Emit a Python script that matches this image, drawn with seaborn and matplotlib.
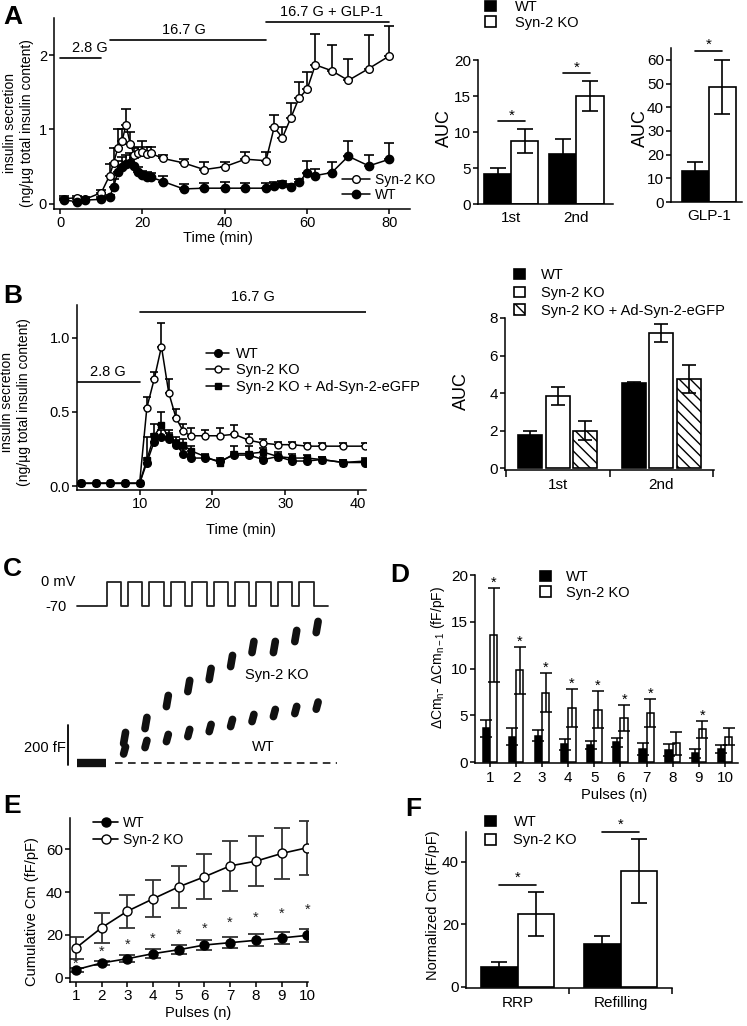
import numpy as np
import pandas as pd
import matplotlib
matplotlib.use("Agg")
import matplotlib.pyplot as plt
from matplotlib.lines import Line2D
from matplotlib.patches import Patch
import seaborn as sns

# ======================= DATA =======================
# Panel A - perifusion time course
a_time = [1, 4, 6, 10, 12, 13, 14, 15, 16, 17, 18, 19, 20, 21, 22, 25, 30, 35, 40, 45,
          50, 52, 54, 56, 58, 60, 62, 66, 70, 75, 80]
a_ko = [0.07, 0.08, 0.06, 0.15, 0.38, 0.55, 0.75, 0.84, 1.06, 0.81, 0.66, 0.69, 0.70, 0.67,
        0.68, 0.61, 0.55, 0.46, 0.50, 0.60, 0.58, 1.03, 0.89, 1.15, 1.42, 1.54, 1.87, 1.79,
        1.66, 1.82, 1.99]
a_ko_err = [0.03, 0.03, 0.03, 0.03, 0.16, 0.20, 0.25, 0.17, 0.21, 0.16, 0.09, 0.08, 0.15,
            0.09, 0.08, 0.05, 0.05, 0.10, 0.06, 0.10, 0.12, 0.17, 0.14, 0.21, 0.22, 0.23,
            0.41, 0.35, 0.29, 0.45, 0.40]
a_wt = [0.05, 0.03, 0.05, 0.06, 0.09, 0.23, 0.43, 0.50, 0.53, 0.55, 0.51, 0.43, 0.39, 0.36,
        0.36, 0.30, 0.20, 0.21, 0.21, 0.21, 0.21, 0.24, 0.26, 0.23, 0.29, 0.42, 0.38, 0.42,
        0.64, 0.51, 0.60]
a_wt_err = [0.03, 0.03, 0.03, 0.03, 0.03, 0.10, 0.15, 0.13, 0.12, 0.13, 0.10, 0.06, 0.05,
            0.07, 0.06, 0.07, 0.07, 0.07, 0.08, 0.07, 0.07, 0.05, 0.05, 0.03, 0.05, 0.15,
            0.09, 0.14, 0.20, 0.15, 0.22]
a_phase_labels = ["2.8 G", "16.7 G", "16.7 G + GLP-1"]
a_phase_start = [0, 12, 50]
a_phase_end = [10, 50, 80]

a_auc_phase = ["1st", "2nd"]
a_auc_wt = [4.2, 7.0]
a_auc_wt_err = [0.8, 2.0]
a_auc_ko = [8.8, 15.0]
a_auc_ko_err = [1.65, 2.15]
a_glp_cat = ["GLP-1"]
a_glp_wt = [13.0]
a_glp_wt_err = [4.0]
a_glp_ko = [48.5]
a_glp_ko_err = [11.3]

# Panel B - rescue time course
b_time = [2, 4, 6, 8, 10, 11, 12, 13, 14, 15, 16, 17, 19, 21, 23, 25, 27, 29, 31, 33, 35, 38, 41]
b_wt = [0.02, 0.02, 0.02, 0.02, 0.02, 0.16, 0.30, 0.33, 0.32, 0.28, 0.22, 0.19, 0.19, 0.17,
        0.21, 0.21, 0.18, 0.20, 0.17, 0.17, 0.18, 0.16, 0.16]
b_wt_err = [0.0, 0.0, 0.0, 0.0, 0.0, 0.03, 0.05, 0.05, 0.04, 0.03, 0.03, 0.02, 0.02, 0.02,
            0.02, 0.02, 0.02, 0.02, 0.02, 0.02, 0.02, 0.02, 0.02]
b_ko = [0.02, 0.02, 0.02, 0.02, 0.02, 0.53, 0.72, 0.94, 0.63, 0.46, 0.37, 0.34, 0.34, 0.34,
        0.35, 0.31, 0.29, 0.28, 0.28, 0.27, 0.27, 0.27, 0.27]
b_ko_err = [0.0, 0.0, 0.0, 0.0, 0.0, 0.07, 0.05, 0.16, 0.09, 0.06, 0.05, 0.05, 0.04, 0.05,
            0.06, 0.04, 0.03, 0.02, 0.02, 0.02, 0.02, 0.02, 0.02]
b_res = [0.02, 0.02, 0.02, 0.02, 0.02, 0.18, 0.34, 0.41, 0.33, 0.29, 0.28, 0.24, 0.20, 0.16,
         0.22, 0.22, 0.23, 0.20, 0.19, 0.19, 0.18, 0.16, 0.17]
b_res_err = [0.0, 0.0, 0.0, 0.0, 0.0, 0.15, 0.08, 0.09, 0.05, 0.04, 0.04, 0.03, 0.02, 0.02,
             0.05, 0.05, 0.03, 0.03, 0.03, 0.02, 0.02, 0.02, 0.02]
b_phase_labels = ["2.8 G", "16.7 G"]
b_phase_start = [0, 10]
b_phase_end = [10, 41.5]

b_groups = ["1st", "2nd"]
b_bar_wt = [1.74, 4.53]
b_bar_wt_err = [0.26, 0.05]
b_bar_ko = [3.84, 7.20]
b_bar_ko_err = [0.48, 0.50]
b_bar_res = [2.00, 4.73]
b_bar_res_err = [0.52, 0.75]

# Panel C - capacitance traces
c_onset_ms = [0, 1000, 2000, 3000, 4000, 5000, 6000, 7000, 8000, 9000]
c_pulse_dur_ms = 670
c_hold_mv = -70
c_step_mv = 0
c_ko_cm = [125, 200, 310, 385, 445, 510, 580, 580, 635, 680]
c_wt_cm = [63, 95, 125, 150, 175, 200, 225, 250, 265, 287]

# Panel D - per-pulse increments
d_pulses = ["1", "2", "3", "4", "5", "6", "7", "8", "9", "10"]
d_wt = [3.6, 2.7, 2.8, 1.9, 1.8, 2.1, 1.4, 1.25, 0.93, 1.4]
d_wt_err = [0.9, 0.9, 0.6, 0.6, 0.4, 0.5, 0.6, 0.65, 0.5, 0.4]
d_ko = [13.6, 9.8, 7.4, 5.8, 5.6, 4.7, 5.2, 2.0, 3.5, 2.7]
d_ko_err = [5.0, 2.5, 2.1, 2.0, 2.0, 1.4, 1.5, 1.2, 0.9, 0.9]
d_sig = [True, True, True, True, True, True, True, False, True, False]

# Panel E - cumulative capacitance
e_pulses = [1, 2, 3, 4, 5, 6, 7, 8, 9, 10]
e_wt = [3.75, 6.9, 8.9, 11.25, 13.1, 15.3, 16.4, 17.5, 18.6, 19.8]
e_wt_err = [1.0, 1.1, 1.5, 2.0, 2.2, 2.3, 2.6, 2.8, 3.0, 3.0]
e_ko = [13.9, 23.4, 31.1, 36.9, 42.5, 47.2, 52.3, 54.5, 58.1, 60.8]
e_ko_err = [5.2, 7.0, 7.8, 8.7, 9.7, 10.6, 11.6, 11.8, 12.1, 12.6]
e_star_level = [6.6, 12.0, 15.5, 18.3, 20.3, 23.0, 25.8, 28.1, 30.0, 32.0]

# Panel F - RRP / refilling
f_cats = ["RRP", "Refilling"]
f_wt = [6.4, 13.65]
f_wt_err = [1.6, 2.7]
f_ko = [23.3, 37.1]
f_ko_err = [7.1, 10.2]

# ======================= STYLE =======================
sns.set_theme(style="ticks")
plt.rcParams["font.family"] = ["Liberation Sans", "DejaVu Sans"]
plt.rcParams["mathtext.fontset"] = "custom"
plt.rcParams["mathtext.rm"] = "Liberation Sans"
plt.rcParams["mathtext.it"] = "Liberation Sans:italic"
plt.rcParams["mathtext.bf"] = "Liberation Sans:bold"
plt.rcParams["hatch.linewidth"] = 1.0
plt.rcParams["hatch.color"] = "black"
plt.rcParams["text.color"] = "black"
plt.rcParams["axes.labelcolor"] = "black"

W, H = 747, 1026
fig = plt.figure(figsize=(W / 100, H / 100), dpi=100)
fig.patch.set_facecolor("white")


def add_ax(l, t, r, b):
    return fig.add_axes([l / W, 1 - b / H, (r - l) / W, (b - t) / H])


def style(ax, fs=10):
    sns.despine(ax=ax)
    ax.set_facecolor("none")
    ax.tick_params(axis="both", direction="out", length=3.5, width=1.1, labelsize=fs,
                   color="black", labelcolor="black", pad=1.5)
    for s in ("left", "bottom"):
        ax.spines[s].set_linewidth(1.1)
        ax.spines[s].set_color("black")


def legend_at(ax, handles, labels, x_px, y_px, fs=10.5, **kw):
    opts = dict(loc="upper left", bbox_to_anchor=(x_px / W, 1 - y_px / H),
                bbox_transform=fig.transFigure, frameon=False, fontsize=fs,
                borderpad=0, borderaxespad=0, handletextpad=0.6, labelspacing=0.2)
    opts.update(kw)
    return ax.legend(handles, labels, **opts)


def grouped_bars(ax, cats, names, values, errors, colors, width, gap=0.0, lw=1.2, capsize=5):
    df = pd.DataFrame({"cat": [c for _ in names for c in cats],
                       "grp": [n for n in names for _ in cats],
                       "val": [v for vals in values for v in vals]})
    sns.barplot(data=df, x="cat", y="val", hue="grp", order=cats, hue_order=names,
                palette=dict(zip(names, colors)), saturation=1, edgecolor="black",
                linewidth=lw, width=width, gap=gap, errorbar=None, legend=False, ax=ax,
                zorder=2)
    conts = list(ax.containers)
    for cont, errs in zip(conts, errors):
        xs = [p.get_x() + p.get_width() / 2 for p in cont]
        ys = [p.get_height() for p in cont]
        ax.errorbar(xs, ys, yerr=errs, fmt="none", ecolor="black", elinewidth=lw,
                    capsize=capsize, capthick=lw, zorder=3)
    ax.set_xlabel("")
    ax.set_ylabel("")
    return conts


def centers(cont):
    return [p.get_x() + p.get_width() / 2 for p in cont]


def label_y(ax, text, x, y, fs):
    ax.set_ylabel(text, fontsize=fs, va="center", ha="center")
    ax.yaxis.set_label_coords(x, y)


def label_x(ax, text, x, y, fs):
    ax.set_xlabel(text, fontsize=fs, va="center", ha="center")
    ax.xaxis.set_label_coords(x, y)


def panel_letter(x, y, s):
    fig.text(x / W, 1 - y / H, s, fontsize=19, fontweight="bold", ha="left", va="center")


def up_err(ax, x, y, e, capsize=3.5, lw=1.2):
    ax.errorbar(x, y, yerr=[np.zeros(len(e)), e], fmt="none", ecolor="black",
                elinewidth=lw, capsize=capsize, capthick=lw, zorder=2)


# ======================= PANEL A (time course) =======================
axA = add_ax(54, 18, 410, 209)
up_err(axA, a_time, a_ko, a_ko_err)
up_err(axA, a_time, a_wt, a_wt_err)
sns.lineplot(x=a_time, y=a_ko, ax=axA, color="black", lw=1.1, marker="o", markersize=5.5,
             markerfacecolor="white", markeredgecolor="black", markeredgewidth=1.0, zorder=4)
sns.lineplot(x=a_time, y=a_wt, ax=axA, color="black", lw=1.1, marker="o", markersize=6,
             markerfacecolor="black", markeredgecolor="black", markeredgewidth=1.0, zorder=5)
axA.set_xlim(-1.5, 85)
axA.set_ylim(-0.07, 2.5)
axA.set_xticks([0, 20, 40, 60, 80])
axA.set_yticks([0, 1, 2])
style(axA, 10.5)
a_levels = [1.96, 2.21, 2.44]
a_text_dx = [2.2, -1.0, 1.0]
for lab, s, e, lv, dx in zip(a_phase_labels, a_phase_start, a_phase_end, a_levels, a_text_dx):
    axA.plot([s, e], [lv, lv], color="black", lw=1.2, clip_on=False)
    axA.text((s + e) / 2 + dx, lv + 0.04, lab, ha="center", va="bottom", fontsize=10.5)
label_x(axA, "Time (min)", 0.46, -0.15, 10.5)
label_y(axA, "insulin secretion\n(ng/\u00b5g total insulin content)", -0.10, 0.45, 10)
legend_at(axA,
          [Line2D([0], [0], color="black", lw=1.1, marker="o", ms=5.5, mfc="white", mec="black"),
           Line2D([0], [0], color="black", lw=1.1, marker="o", ms=6, mfc="black", mec="black")],
          ["Syn-2 KO", "WT"], 342, 173, fs=10, handlelength=2.0, labelspacing=0.05,
          handletextpad=0.4)

# ======================= PANEL A (AUC bars) =======================
axA2 = add_ax(478, 60, 613, 204)
conts = grouped_bars(axA2, a_auc_phase, ["WT", "Syn-2 KO"], [a_auc_wt, a_auc_ko],
                     [a_auc_wt_err, a_auc_ko_err], ["black", "white"], width=0.83, capsize=6)
axA2.set_xlim(-0.51, 1.56)
axA2.set_ylim(0, 20)
axA2.set_yticks([0, 5, 10, 15, 20])
style(axA2, 11)
axA2.tick_params(axis="x", length=0, pad=5)
cw, ck = centers(conts[0]), centers(conts[1])
for i in range(len(a_auc_phase)):
    yb = a_auc_ko[i] + a_auc_ko_err[i] + 1.1
    axA2.plot([cw[i], ck[i]], [yb, yb], color="black", lw=1.2, clip_on=False)
    axA2.text((cw[i] + ck[i]) / 2, yb + 0.7, "*", ha="center", va="center", fontsize=11)
label_y(axA2, "AUC", -0.245, 0.53, 13)
legend_at(axA2, [Patch(facecolor="black", edgecolor="black", lw=1.2),
                 Patch(facecolor="white", edgecolor="black", lw=1.2)],
          ["WT", "Syn-2 KO"], 485, 0, fs=10.5, handlelength=0.75, handleheight=0.75,
          handletextpad=1.3, labelspacing=0.12)

axA3 = add_ax(671, 48, 742, 202)
conts = grouped_bars(axA3, a_glp_cat, ["WT", "Syn-2 KO"], [a_glp_wt, a_glp_ko],
                     [a_glp_wt_err, a_glp_ko_err], ["black", "white"], width=0.8, capsize=6)
axA3.set_xlim(-0.56, 0.49)
axA3.set_ylim(0, 65)
axA3.set_yticks([0, 10, 20, 30, 40, 50, 60])
style(axA3, 11)
axA3.tick_params(axis="x", length=0, pad=5)
cw, ck = centers(conts[0]), centers(conts[1])
yb = a_glp_ko[0] + a_glp_ko_err[0] + 3.8
axA3.plot([cw[0], ck[0]], [yb, yb], color="black", lw=1.2, clip_on=False)
axA3.text((cw[0] + ck[0]) / 2, yb + 2.6, "*", ha="center", va="center", fontsize=11)
label_y(axA3, "AUC", -0.43, 0.48, 13)

# ======================= PANEL B (time course) =======================
axB = add_ax(77, 305, 366, 490)
up_err(axB, b_time, b_ko, b_ko_err, capsize=3)
up_err(axB, b_time, b_res, b_res_err, capsize=3)
up_err(axB, b_time, b_wt, b_wt_err, capsize=3)
sns.lineplot(x=b_time, y=b_ko, ax=axB, color="black", lw=1.1, marker="o", markersize=5,
             markerfacecolor="white", markeredgecolor="black", markeredgewidth=1.0, zorder=4)
sns.lineplot(x=b_time, y=b_res, ax=axB, color="black", lw=1.1, marker="s", markersize=5,
             markerfacecolor="black", markeredgecolor="black", markeredgewidth=1.0, zorder=5)
sns.lineplot(x=b_time, y=b_wt, ax=axB, color="black", lw=1.1, marker="o", markersize=5.5,
             markerfacecolor="black", markeredgecolor="black", markeredgewidth=1.0, zorder=6)
axB.set_xlim(1.4, 41.1)
axB.set_ylim(-0.025, 1.22)
axB.set_xticks([10, 20, 30, 40])
axB.set_yticks([0.0, 0.5, 1.0])
axB.set_yticklabels(["0.0", "0.5", "1.0"])
style(axB, 10.5)
b_levels = [0.70, 1.17]
b_text_dy = [0.02, 0.06]
for lab, s, e, lv, dy in zip(b_phase_labels, b_phase_start, b_phase_end, b_levels, b_text_dy):
    axB.plot([s, e], [lv, lv], color="black", lw=1.2)
    mid = (max(s, 1.4) + min(e, 41.1)) / 2
    axB.text(mid, lv + dy, lab, ha="center", va="bottom", fontsize=10.5)
label_x(axB, "Time (min)", 0.567, -0.215, 10.5)
label_y(axB, "insulin secretion\n(ng/\u00b5g total insulin content)", -0.213, 0.476, 10)
legend_at(axB,
          [Line2D([0], [0], color="black", lw=1.1, marker="o", ms=5.5, mfc="black", mec="black"),
           Line2D([0], [0], color="black", lw=1.1, marker="o", ms=5, mfc="white", mec="black"),
           Line2D([0], [0], color="black", lw=1.1, marker="s", ms=5, mfc="black", mec="black")],
          ["WT", "Syn-2 KO", "Syn-2 KO + Ad-Syn-2-eGFP"], 206, 347, fs=10.5,
          handlelength=1.6, labelspacing=0.17, handletextpad=0.45)

# ======================= PANEL B (AUC bars) =======================
axB2 = add_ax(505, 318, 714, 470)
conts = grouped_bars(axB2, b_groups, ["WT", "Syn-2 KO", "Syn-2 KO + Ad-Syn-2-eGFP"],
                     [b_bar_wt, b_bar_ko, b_bar_res], [b_bar_wt_err, b_bar_ko_err, b_bar_res_err],
                     ["black", "white", "white"], width=0.8, gap=0.12, capsize=5)
for p in conts[2]:
    p.set_hatch("\\\\\\")
axB2.set_xlim(-0.51, 1.51)
axB2.set_ylim(-0.1, 8)
axB2.set_yticks([0, 2, 4, 6, 8])
style(axB2, 11)
axB2.tick_params(axis="x", which="major", length=0, pad=6)
axB2.set_xticks([-0.5, 0.5, 1.5], minor=True)
axB2.tick_params(axis="x", which="minor", length=5, width=1.1, color="black")
label_y(axB2, "AUC", -0.21, 0.52, 13)
legend_at(axB2, [Patch(facecolor="black", edgecolor="black", lw=1.2),
                 Patch(facecolor="white", edgecolor="black", lw=1.2),
                 Patch(facecolor="white", edgecolor="black", lw=1.2, hatch="\\\\\\")],
          ["WT", "Syn-2 KO", "Syn-2 KO + Ad-Syn-2-eGFP"], 514, 268, fs=10.5,
          handlelength=0.75, handleheight=0.75, handletextpad=1.1, labelspacing=0.27)

# ======================= PANEL C (traces) =======================
c_xlim = (-3117, 11136)
axCv = add_ax(40, 575, 345, 615)
tv, vv = [-1400], [c_hold_mv]
for on in c_onset_ms:
    tv += [on, on, on + c_pulse_dur_ms, on + c_pulse_dur_ms]
    vv += [c_hold_mv, c_step_mv, c_step_mv, c_hold_mv]
tv.append(10350)
vv.append(c_hold_mv)
axCv.plot(tv, vv, color="#222222", lw=1.3, clip_on=False)
axCv.set_xlim(*c_xlim)
axCv.set_ylim(-96.25, 20.4)
axCv.axis("off")
axCv.text(-1477, c_step_mv, "0 mV", ha="right", va="center", fontsize=10.5)
axCv.text(-1855, c_hold_mv - 4, "-70", ha="right", va="center", fontsize=10.5)

axCc = add_ax(40, 615, 345, 780)
axCc.set_xlim(*c_xlim)
axCc.set_ylim(-85, 740)
axCc.axis("off")
period = c_onset_ms[1] - c_onset_ms[0]
t_mid = [on + (c_pulse_dur_ms + period) / 2 for on in c_onset_ms]
axCc.plot([-1400, -30], [0, 0], color="#111111", lw=6, solid_capstyle="butt")
for tc, ko, wt in zip(t_mid, c_ko_cm, c_wt_cm):
    axCc.plot([tc - 45, tc + 45], [ko - 28, ko + 28], color="#111111", lw=5.5,
              solid_capstyle="round")
    axCc.plot([tc - 45, tc + 45], [wt - 18, wt + 18], color="#111111", lw=5.5,
              solid_capstyle="round")
axCc.plot([388, 10760], [0, 0], color="black", lw=1.1, linestyle=(0, (5, 3.5)))
axCc.plot([-1808, -1808], [-10, 190], color="black", lw=1.3)
axCc.text(-1900, 75, "200 fF", ha="right", va="center", fontsize=10.5)
axCc.text(7958, 440, "Syn-2 KO", ha="center", va="center", fontsize=10.5)
axCc.text(7303, 80, "WT", ha="center", va="center", fontsize=10.5)

# ======================= PANEL D =======================
axD = add_ax(475, 575, 738, 763)
conts = grouped_bars(axD, d_pulses, ["WT", "Syn-2 KO"], [d_wt, d_ko], [d_wt_err, d_ko_err],
                     ["black", "white"], width=0.56, lw=1.1, capsize=4)
axD.set_xlim(-0.57, 9.5)
axD.set_ylim(-0.1, 20)
axD.set_yticks([0, 5, 10, 15, 20])
style(axD, 11)
axD.tick_params(axis="x", length=3, pad=3)
ck = centers(conts[1])
for i, sig in enumerate(d_sig):
    if sig:
        axD.text(ck[i], d_ko[i] + d_ko_err[i] + 0.55, "*", ha="center", va="center",
                 fontsize=10.5)
label_x(axD, "Pulses (n)", 0.53, -0.17, 10.5)
label_y(axD, r"$\Delta$Cm$_\mathregular{n}$- $\Delta$Cm$_\mathregular{n-1}$ (fF/pF)",
        -0.14, 0.56, 10)
legend_at(axD, [Patch(facecolor="black", edgecolor="black", lw=1.2),
                Patch(facecolor="white", edgecolor="black", lw=1.2)],
          ["WT", "Syn-2 KO"], 540, 570, fs=10.5, handlelength=0.75, handleheight=0.75,
          handletextpad=1.0, labelspacing=0.12)

# ======================= PANEL E =======================
axE = add_ax(70, 818, 308, 982)
axE.errorbar(e_pulses, e_ko, yerr=e_ko_err, fmt="none", ecolor="#333333", elinewidth=1.3,
             capsize=6, capthick=1.3, zorder=2)
axE.errorbar(e_pulses, e_wt, yerr=e_wt_err, fmt="none", ecolor="#333333", elinewidth=1.3,
             capsize=6, capthick=1.3, zorder=2)
sns.lineplot(x=e_pulses, y=e_ko, ax=axE, color="black", lw=1.2, marker="o", markersize=6.5,
             markerfacecolor="white", markeredgecolor="black", markeredgewidth=1.0, zorder=4)
sns.lineplot(x=e_pulses, y=e_wt, ax=axE, color="black", lw=1.2, marker="o", markersize=6.5,
             markerfacecolor="black", markeredgecolor="black", markeredgewidth=1.0, zorder=5)
for x, s in zip(e_pulses, e_star_level):
    axE.text(x, s, "*", ha="center", va="center", fontsize=10.5, color="#222222")
axE.set_xlim(0.77, 10.03)
axE.set_ylim(-2, 74.7)
axE.set_xticks(e_pulses)
axE.set_yticks([0, 20, 40, 60])
style(axE, 11)
label_x(axE, "Pulses (n)", 0.54, -0.19, 10.5)
label_y(axE, "Cumulative Cm (fF/pF)", -0.16, 0.43, 10.5)
legend_at(axE,
          [Line2D([0], [0], color="black", lw=1.2, marker="o", ms=6.5, mfc="black", mec="black"),
           Line2D([0], [0], color="black", lw=1.2, marker="o", ms=6.5, mfc="white", mec="black")],
          ["WT", "Syn-2 KO"], 93, 816, fs=10, handlelength=1.8, labelspacing=0.2,
          handletextpad=0.35)

# ======================= PANEL F =======================
axF = add_ax(466, 832, 672, 988)
conts = grouped_bars(axF, f_cats, ["WT", "Syn-2 KO"], [f_wt, f_ko], [f_wt_err, f_ko_err],
                     ["black", "white"], width=0.7, capsize=6)
axF.set_xlim(-0.5, 1.5)
axF.set_ylim(-0.4, 49.6)
axF.set_yticks([0, 20, 40])
style(axF, 11)
axF.tick_params(axis="x", which="major", length=0, pad=6)
axF.set_xticks([0.5, 1.5], minor=True)
axF.tick_params(axis="x", which="minor", length=4, width=1.1, color="black")
cw, ck = centers(conts[0]), centers(conts[1])
for i in range(len(f_cats)):
    yb = f_ko[i] + f_ko_err[i] + 2.2
    axF.plot([cw[i], ck[i]], [yb, yb], color="black", lw=1.2, clip_on=False)
    axF.text((cw[i] + ck[i]) / 2, yb + 2.4, "*", ha="center", va="center", fontsize=10.5)
label_y(axF, "Normalized Cm (fF/pF)", -0.16, 0.53, 10.5)
legend_at(axF, [Patch(facecolor="black", edgecolor="black", lw=1.2),
                Patch(facecolor="white", edgecolor="black", lw=1.2)],
          ["WT", "Syn-2 KO"], 485, 815, fs=10.5, handlelength=0.75, handleheight=0.75,
          handletextpad=1.2, labelspacing=0.3)

# ======================= PANEL LETTERS =======================
panel_letter(3, 17, "A")
panel_letter(3, 296, "B")
panel_letter(3, 569, "C")
panel_letter(390, 575, "D")
panel_letter(3, 806, "E")
panel_letter(405, 809, "F")

fig.savefig("out.png", dpi=100, facecolor="white")
